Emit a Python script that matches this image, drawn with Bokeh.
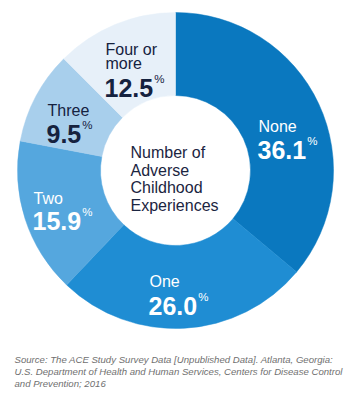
import math
from bokeh.plotting import figure
from bokeh.models import Range1d, ColumnDataSource
from bokeh.core.properties import value
from bokeh.embed import file_html
from bokeh.resources import INLINE

# ---- data ----
categories = ["None", "One", "Two", "Three", "Four or more"]
percentages = [36.1, 26.0, 15.9, 9.5, 12.5]
center_title = ["Number of", "Adverse", "Childhood", "Experiences"]
source_lines = [
    "Source: The ACE Study Survey Data [Unpublished Data]. Atlanta, Georgia:",
    "U.S. Department of Health and Human Services, Centers for Disease Control",
    "and Prevention; 2016",
]

# ---- styles ----
palette = ["#0a78bf", "#1f8dd3", "#55a7de", "#a8cfec", "#e7f0f9"]
label_colors = ["white", "white", "white", "#15223f", "#15223f"]
FONT = "Liberation Sans"
NUM_SIZE = 25
H = 395  # page height, used to flip y

W_FIG, H_FIG = 349, 389
p = figure(width=W_FIG, height=H_FIG, output_backend="svg", toolbar_location=None,
           x_range=Range1d(0, W_FIG), y_range=Range1d(H - H_FIG, H),
           min_border=0)
p.axis.visible = False
p.grid.visible = False
p.outline_line_color = None
p.background_fill_color = "white"
p.border_fill_color = "white"

cx, cy = 175, H - 170
r_out, r_in = 158, 75

total = sum(percentages)
starts, ends = [], []
cum = 0.0
for v in percentages:
    starts.append(math.pi / 2 - 2 * math.pi * cum / total)
    cum += v
    ends.append(math.pi / 2 - 2 * math.pi * cum / total)

src = ColumnDataSource(dict(start=starts, end=ends, color=palette,
                            x=[cx] * len(percentages), y=[cy] * len(percentages)))
p.annular_wedge(x="x", y="y", inner_radius=r_in, outer_radius=r_out,
                start_angle="start", end_angle="end", direction="clock",
                fill_color="color", line_color="color", line_width=0.5, source=src)

# label layout (page coords): x, name baselines, number baseline, percent baseline
layout = [
    (258, [126], 149, 140),
    (149, [281], 305, 296),
    (33, [198], 220, 211),
    (47, [110], 133, 124),
    (105, [49, 63], 87, 78),
]
name_lines = [["None"], ["One"], ["Two"], ["Three"], ["Four or", "more"]]

def num_width(s):
    # approximate advance width of Liberation Sans Bold digits / period in em
    return sum(0.278 if c == "." else 0.556 for c in s) * NUM_SIZE

for i, (lx, nbs, numb, pb) in enumerate(layout):
    col = label_colors[i]
    for line, b in zip(name_lines[i], nbs):
        p.text(x=[lx], y=[H - b], text=[line], text_font=value(FONT), text_font_size="16px",
               text_color=col, text_baseline="alphabetic", text_align="left")
    s = f"{percentages[i]:.1f}"
    p.text(x=[lx - 1], y=[H - numb], text=[s], text_font=value(FONT),
           text_font_size=f"{NUM_SIZE}px", text_font_style="bold", text_color=col,
           text_baseline="alphabetic", text_align="left")
    p.text(x=[lx + num_width(s)], y=[H - pb], text=["%"], text_font=value(FONT),
           text_font_size="11.5px", text_color=col, text_baseline="alphabetic",
           text_align="left")

for line, b in zip(center_title, [152, 170, 187, 205]):
    p.text(x=[130], y=[H - b], text=[line], text_font=value(FONT), text_font_size="16px",
           text_color="#1b2541", text_baseline="alphabetic", text_align="left")

for line, b in zip(source_lines, [359, 371, 383]):
    p.text(x=[14], y=[H - b], text=[line], text_font=value(FONT), text_font_size="9.6px",
           text_font_style="italic", text_color="#707070", text_baseline="alphabetic",
           text_align="left")

open("out.html", "w").write(file_html(p, INLINE))
